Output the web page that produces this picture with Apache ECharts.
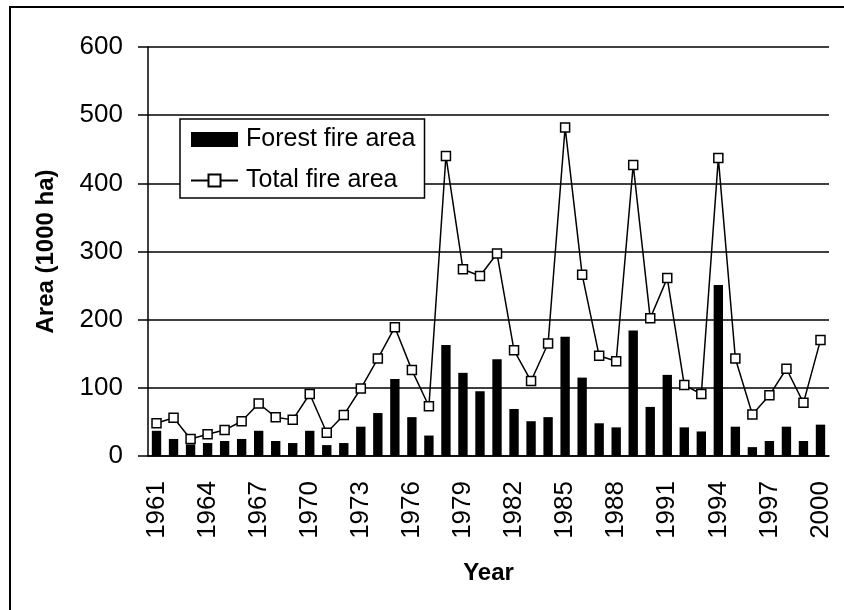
<!DOCTYPE html>
<html>
<head>
<meta charset="utf-8">
<script src="https://cdn.jsdelivr.net/npm/echarts@6/dist/echarts.min.js"></script>
<style>
  html, body { margin: 0; padding: 0; background: #fff; }
  #main { width: 844px; height: 610px; }
</style>
</head>
<body>
<div id="main"></div>
<script>
var years = [];
for (var y = 1961; y <= 2000; y++) years.push(String(y));

// forest fire area (1000 ha)
var forestArea = [37, 25, 17, 19, 22, 25, 37, 22, 19, 37,
                  16, 19, 43, 63, 113, 57, 30, 163, 122, 95,
                  142, 69, 51, 57, 175, 115, 48, 42, 184, 72,
                  119, 42, 36, 251, 43, 13, 22, 43, 22, 46];

// total fire area (1000 ha)
var totalArea = [48, 56, 25, 32, 38, 51, 77, 57, 53, 91,
                 34, 60, 99, 143, 189, 126, 73, 440, 274, 264,
                 297, 155, 110, 165, 482, 266, 147, 139, 427, 202,
                 261, 104, 91, 437, 143, 61, 89, 128, 78, 170];

var font = 'Liberation Sans, Arial, sans-serif';

var option = {
    animation: false,
    backgroundColor: '#fff',
    textStyle: { fontFamily: font, color: '#000' },
    graphic: [{
        type: 'rect',
        shape: { x: 10, y: 7, width: 900, height: 700 },
        style: { fill: 'none', stroke: '#000', lineWidth: 2 },
        z: 100
    }],
    grid: { left: 148, right: 15, top: 47, bottom: 154 },
    legend: {
        orient: 'vertical',
        left: 180,
        top: 119,
        padding: [8, 9, 5, 10],
        itemGap: 16,
        itemWidth: 47,
        itemHeight: 15,
        backgroundColor: '#fff',
        borderColor: '#000',
        borderWidth: 1.5,
        textStyle: { fontSize: 25, color: '#000', fontFamily: font, padding: [0, 0, 0, 3] },
        data: [
            { name: 'Forest fire area', icon: 'rect' },
            { name: 'Total fire area' }
        ],
        z: 10
    },
    xAxis: {
        type: 'category',
        data: years,
        name: 'Year',
        nameLocation: 'middle',
        nameGap: 105,
        nameTextStyle: { fontSize: 24, fontWeight: 'bold', color: '#000' },
        axisLine: { lineStyle: { color: '#000', width: 1.5 } },
        axisTick: { interval: 0, length: 10, lineStyle: { color: '#000', width: 1.5 } },
        axisLabel: { interval: 2, rotate: 90, fontSize: 26, margin: 25, color: '#000' }
    },
    yAxis: {
        type: 'value',
        min: 0,
        max: 600,
        interval: 100,
        name: 'Area (1000 ha)',
        nameLocation: 'middle',
        nameGap: 90,
        nameTextStyle: { fontSize: 24, fontWeight: 'bold', color: '#000' },
        axisLine: { show: true, lineStyle: { color: '#000', width: 1.5 } },
        axisTick: { show: true, length: 10, lineStyle: { color: '#000', width: 1.5 } },
        axisLabel: { fontSize: 26, margin: 25, color: '#000' },
        splitLine: { lineStyle: { color: '#000', width: 1.5 } }
    },
    series: [
        {
            name: 'Forest fire area',
            type: 'bar',
            data: forestArea,
            barWidth: '55%',
            itemStyle: { color: '#000' }
        },
        {
            name: 'Total fire area',
            type: 'line',
            data: totalArea,
            symbol: 'rect',
            symbolSize: 9,
            showAllSymbol: true,
            lineStyle: { color: '#000', width: 1.5 },
            itemStyle: { color: '#fff', borderColor: '#000', borderWidth: 1.5 },
            z: 3
        }
    ]
};

var chart = echarts.init(document.getElementById('main'));
chart.setOption(option);
</script>
</body>
</html>
